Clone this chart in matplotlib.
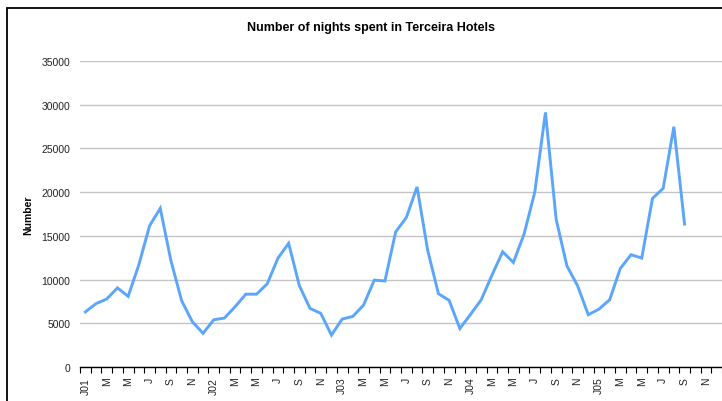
#####################################
# Import Modules
#####################################

import matplotlib
matplotlib.use("Agg")
import matplotlib.pyplot as plt
from matplotlib.patches import Rectangle

#####################################
# Data - monthly nights spent, Jan 2001 .. Sep 2005
#####################################

nights = [
    6300, 7250, 7780, 9050, 8080, 11700, 16150, 18150, 12150, 7580, 5180, 3850,
    5400, 5600, 6900, 8330, 8330, 9520, 12450, 14150, 9300, 6700, 6140, 3650,
    5480, 5790, 7080, 9930, 9840, 15450, 17100, 20600, 13300, 8380, 7620, 4400,
    6020, 7700, 10500, 13180, 11960, 15200, 19980, 29120, 16900, 11580, 9300, 5980,
    6620, 7690, 11280, 12840, 12460, 19280, 20430, 27480, 16350,
]
month_letters = ["J", "F", "M", "A", "M", "J", "J", "A", "S", "O", "N", "D"]
years = ["01", "02", "03", "04", "05"]
n_categories = 60  # axis runs to Dec 2005

tick_labels = []
for i in range(0, n_categories, 2):
    letter = month_letters[i % 12]
    if i % 12 == 0:
        letter += years[i // 12]
    tick_labels.append(letter)

#####################################
# Figure set up
#####################################

W, H = 722, 402
fig = plt.figure(figsize=(W / 100, H / 100), dpi=100)
plt.rcParams["font.family"] = ["Liberation Sans", "DejaVu Sans"]

# outer chart border (right and bottom run off the image)
fig.patches.append(Rectangle((7 / W, -0.1), 1.2, (H - 9) / H + 0.1,
                             transform=fig.transFigure, fill=False,
                             edgecolor="black", linewidth=1.3))

ax = fig.add_axes([80 / W, (H - 368) / H, 642 / W, 306 / H])

x = list(range(len(nights)))
ax.plot(x, nights, color="#5ba6fa", linewidth=2.1, solid_joinstyle="miter")

ax.set_xlim(-0.5, -0.5 + 642 / 10.73)
ax.set_ylim(0, 35000)
ax.set_yticks(range(0, 35001, 5000))
ax.yaxis.grid(True, color="#c4c4c4", linewidth=1)
ax.set_axisbelow(True)

# tick marks between categories, labels on every second category
ax.set_xticks([i - 0.5 for i in range(n_categories + 1)])
ax.set_xticklabels([])
ax.set_xticks(list(range(0, n_categories, 2)), minor=True)
ax.set_xticklabels(tick_labels, minor=True, rotation=90, fontsize=7.5,
                   color="#222222")
ax.tick_params(axis="x", which="major", length=4, width=0.8, direction="out")
ax.tick_params(axis="x", which="minor", length=0, pad=7)
ax.tick_params(axis="y", length=0, labelsize=7.5, labelcolor="#222222", pad=7)

for side in ["top", "right", "left"]:
    ax.spines[side].set_visible(False)
ax.spines["bottom"].set_linewidth(1.0)

ax.set_ylabel("Number", fontsize=7.5, fontweight="bold", labelpad=6)
fig.text(371 / W, 1 - 28 / H, "Number of nights spent in Terceira Hotels",
         ha="center", va="center", fontsize=9, fontweight="bold")

fig.savefig("out.png", dpi=100)
